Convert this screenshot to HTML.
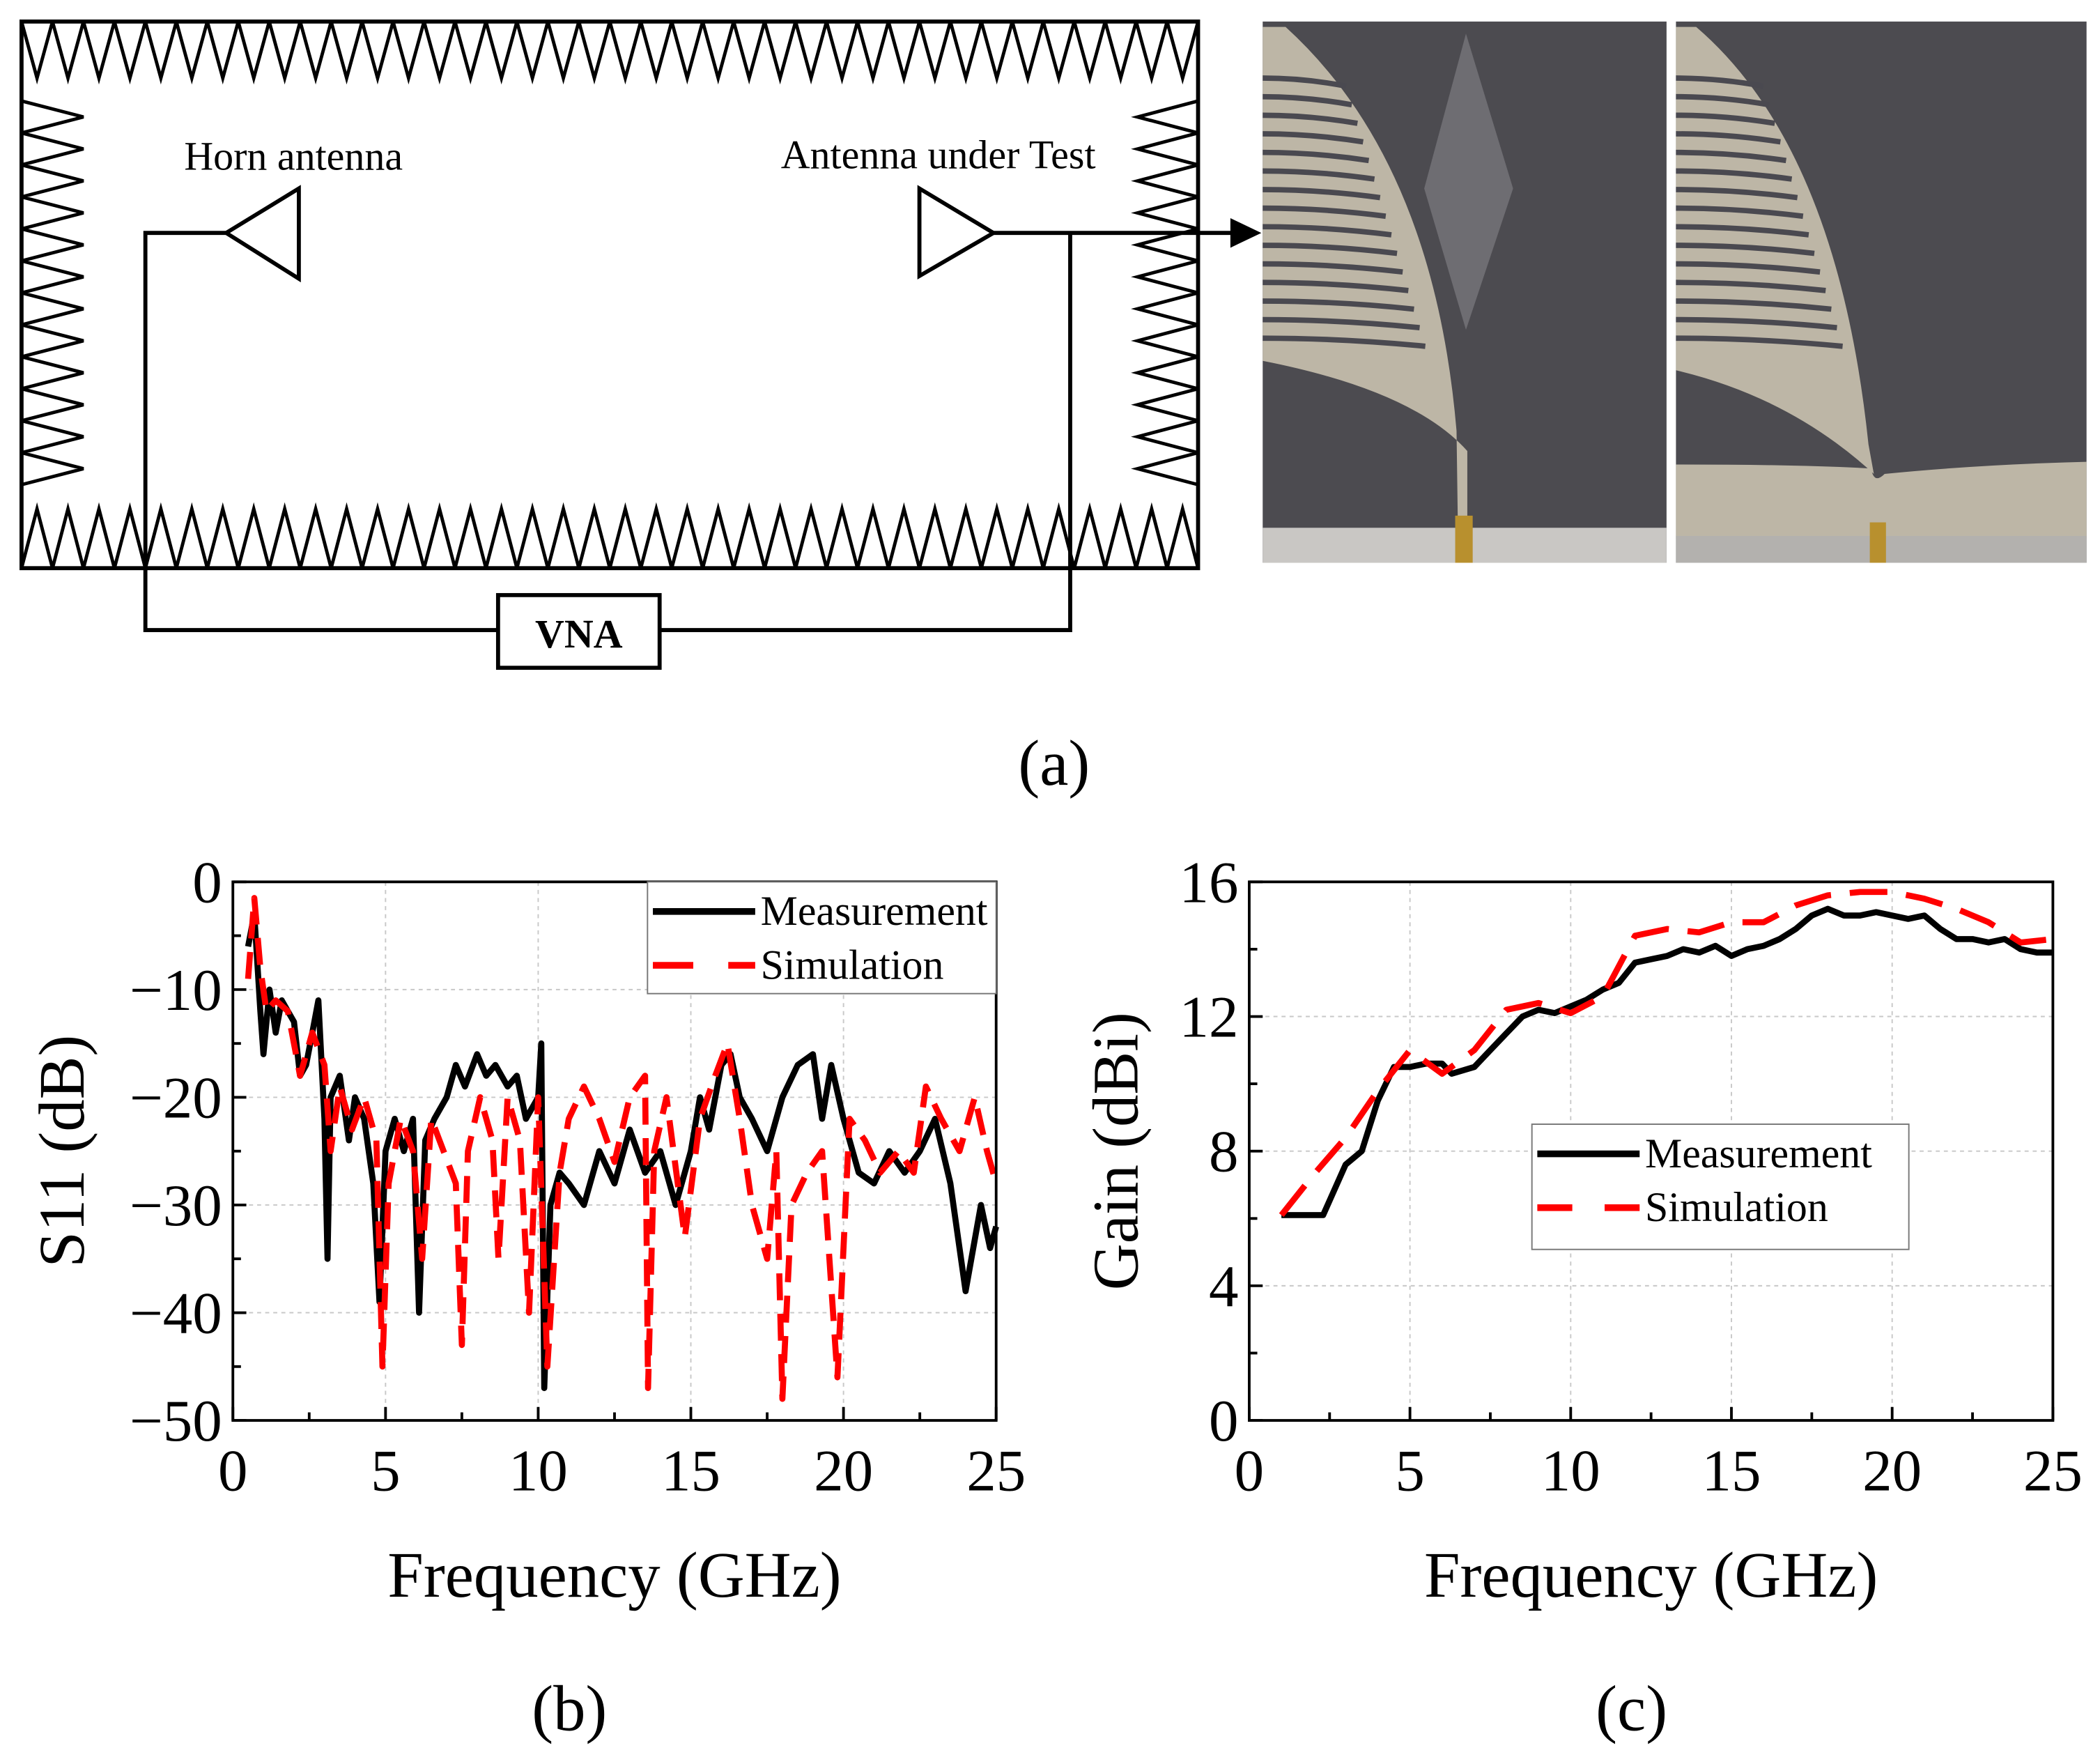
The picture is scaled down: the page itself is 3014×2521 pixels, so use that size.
<!DOCTYPE html>
<html><head><meta charset="utf-8"><style>
html,body{margin:0;padding:0;background:#fff;}
svg{display:block;}
text{font-family:"Liberation Serif",serif;}
</style></head><body>
<svg id="fig" width="3014" height="2521" viewBox="0 0 1560 1305" preserveAspectRatio="none" xmlns="http://www.w3.org/2000/svg">
<g id="diag"></g>
<g id="photos">
  <rect x="938" y="16" width="300" height="402" fill="#4c4b50"/>
  <rect x="938" y="392" width="300" height="26" fill="#c9c7c4"/>
  <path d="M938,20 L955,20 Q1065,120 1082,320 L1083,392 L1090,392 L1090,335 Q1050,290 938,268 Z" fill="#bdb6a6"/>
  <polygon points="1089,25 1124,140 1089,245 1058,140" fill="#6e6d72"/>
  <rect x="1081" y="383" width="13" height="35" fill="#b8902e"/>
  <rect x="1245" y="16" width="305" height="402" fill="#4c4b50"/>
  <path d="M1245,20 L1260,20 Q1365,110 1388,330 L1392,352 Q1330,295 1245,275 Z" fill="#bdb6a6"/>
  <path d="M1245,345 Q1340,345 1390,348 Q1392,360 1400,352 Q1470,345 1550,343 L1550,400 L1245,400 Z" fill="#bdb6a6"/>
  <rect x="1245" y="398" width="305" height="20" fill="#b3b1ae"/>
  <rect x="1389" y="388" width="12" height="30" fill="#b8902e"/>
</g>
<g id="slots"></g>
<text x="783" y="583" font-size="48" text-anchor="middle">(a)</text>
<g id="chartB"></g>
<g id="chartC"></g>
<text x="423" y="1285" font-size="48" text-anchor="middle">(b)</text>
<text x="1212" y="1285" font-size="48" text-anchor="middle">(c)</text>
</svg>
<script>
const s11Freq=[0.5,0.7,0.9,1.0,1.2,1.4,1.6,1.8,2.0,2.2,2.4,2.6,2.8,3.0,3.1,3.2,3.5,3.8,4.0,4.3,4.6,4.8,5.0,5.3,5.6,5.9,6.1,6.3,6.6,7.0,7.3,7.6,8.0,8.3,8.6,9.0,9.3,9.6,10.0,10.1,10.2,10.4,10.7,11.0,11.5,12.0,12.5,13.0,13.5,14.0,14.5,15.0,15.3,15.6,16.0,16.3,16.6,17.0,17.5,18.0,18.5,19.0,19.3,19.6,20.0,20.5,21.0,21.5,22.0,22.5,23.0,23.5,24.0,24.5,24.8,25];
const s11Meas=[-6,-3,-12,-16,-10,-14,-11,-12,-13,-18,-17,-14,-11,-22,-35,-20,-18,-24,-20,-22,-28,-39,-25,-22,-25,-22,-40,-24,-22,-20,-17,-19,-16,-18,-17,-19,-18,-22,-20,-15,-47,-30,-27,-28,-30,-25,-28,-23,-27,-25,-30,-25,-20,-23,-17,-16,-20,-22,-25,-20,-17,-16,-22,-17,-22,-27,-28,-25,-27,-25,-22,-28,-38,-30,-34,-32];
const s11SimFreq=[0.5,0.7,0.9,1.1,1.4,1.8,2.2,2.6,3.0,3.2,3.5,3.9,4.3,4.7,4.9,5.1,5.5,5.9,6.2,6.5,6.9,7.3,7.5,7.7,8.1,8.5,8.7,9.0,9.4,9.7,10.0,10.3,10.7,11.0,11.5,12.0,12.5,13.0,13.5,13.6,13.8,14.2,14.8,15.3,15.8,16.2,16.6,17.0,17.5,17.8,18.0,18.3,18.8,19.3,19.8,20.2,20.7,21.2,21.8,22.3,22.7,23.2,23.8,24.3,24.7,25];
const s11Sim=[-9,-1.5,-8,-12,-11,-12,-18,-14,-17,-25,-19,-23,-20,-24,-45,-28,-22,-25,-35,-22,-25,-28,-43,-25,-20,-24,-35,-20,-24,-40,-20,-45,-27,-22,-19,-22,-26,-20,-18,-47,-25,-20,-33,-22,-18,-15,-22,-30,-35,-25,-48,-30,-27,-25,-46,-22,-24,-27,-25,-27,-19,-22,-25,-20,-25,-28];
const gainFreq=[1,2,2.3,3,3.5,4,4.5,5,5.5,6,6.3,7,7.5,8,8.5,9,9.5,10,10.5,11,11.5,12,12.5,13,13.5,14,14.5,15,15.5,16,16.5,17,17.5,18,18.5,19,19.5,20,20.5,21,21.5,22,22.5,23,23.5,24,24.5,25];
const gainMeas=[6.1,6.1,6.1,7.6,8,9.5,10.5,10.5,10.6,10.6,10.3,10.5,11,11.5,12,12.2,12.1,12.3,12.5,12.8,13,13.6,13.7,13.8,14,13.9,14.1,13.8,14,14.1,14.3,14.6,15,15.2,15,15,15.1,15,14.9,15,14.6,14.3,14.3,14.2,14.3,14,13.9,13.9];
const gainSimFreq=[1,2,3,4,5,6,7,8,9,10,11,12,13,14,15,16,17,18,19,20,21,22,23,24,25];
const gainSim=[6.1,7.3,8.4,9.8,11,10.3,11,12.2,12.4,12.1,12.6,14.4,14.6,14.5,14.8,14.8,15.3,15.6,15.7,15.7,15.5,15.2,14.8,14.2,14.3];
const s11YTicks=[0,-10,-20,-30,-40,-50];
const gainYTicks=[0,4,8,12,16];
const xTicks=[0,5,10,15,20,25];

const NS="http://www.w3.org/2000/svg";
function mk(parent,tag,attrs,txt){const e=document.createElementNS(NS,tag);for(const k in attrs)e.setAttribute(k,attrs[k]);if(txt!==undefined)e.textContent=txt;parent.appendChild(e);return e;}

const d=document.getElementById('diag');
let e;
e=mk(d,'rect',{x:16,y:16,width:874,height:406,fill:'none',stroke:'#000','stroke-width':3});


let p='';
const nT=38, w=(890-16)/nT;
for(let i=0;i<nT;i++){const x=16+i*w;p+=`M${x},16 L${x+w/2},58 L${x+w},16 `;}
for(let i=0;i<nT;i++){const x=16+i*w;p+=`M${x},422 L${x+w/2},378 L${x+w},422 `;}
const nS=12,h=(360-75)/nS;
for(let i=0;i<nS;i++){const y=75+i*h;p+=`M16,${y} L62,${y+h/2} L16,${y+h} `;p+=`M890,${y} L845,${y+h/2} L890,${y+h} `;}
e=mk(d,'path',{d:p,fill:'none',stroke:'#000','stroke-width':2.5});


e=mk(d,'path',{d:'M168,173 L222,140 L222,207 Z M738,173 L683,140 L683,205 Z',fill:'none',stroke:'#000','stroke-width':3});


e=mk(d,'path',{d:'M168,173 L108,173 L108,468 L370,468 M490,468 L795,468 L795,173 L738,173 M795,173 L918,173',fill:'none',stroke:'#000','stroke-width':3});


e=mk(d,'path',{d:'M937,173 L914,162 L914,184 Z',fill:'#000'});


e=mk(d,'rect',{x:370,y:442,width:120,height:54,fill:'#fff',stroke:'#000','stroke-width':3});


e=mk(d,'text',{x:430,y:481,'font-size':30,'font-weight':'bold','text-anchor':'middle'},'VNA');


e=mk(d,'text',{x:218,y:126,'font-size':30,'text-anchor':'middle'},'Horn antenna');


e=mk(d,'text',{x:697,y:125,'font-size':30,'text-anchor':'middle'},'Antenna under Test');



const sl=document.getElementById('slots');
let sp='';
for(let i=0;i<15;i++){const y=58+i*13.8;const xe=1000+i*4.2;sp+=`M938,${y} Q${(938+xe)/2},${y} ${xe},${y+6} `;}
for(let i=0;i<15;i++){const y=58+i*13.8;const xe=1310+i*4.2;sp+=`M1245,${y} Q${(1245+xe)/2},${y} ${xe},${y+6} `;}
e=mk(sl,'path',{d:sp,fill:'none',stroke:'#4a4950','stroke-width':4});



function chart(gid,L,R,T,B,ymin,ymax,yTicks,minorY,series,ylabel,legend){
  const g=document.getElementById(gid);
  const X=v=>L+(v-0)/25*(R-L);
  const Y=v=>B-(v-ymin)/(ymax-ymin)*(B-T);
  let gp='';
  xTicks.forEach(t=>{if(t>0&&t<25)gp+=`M${X(t)},${T} L${X(t)},${B} `;});
  yTicks.forEach(t=>{if(t!==ymin&&t!==ymax)gp+=`M${L},${Y(t)} L${R},${Y(t)} `;});
  let el=mk(g,'path',{d:gp,stroke:'#c8c8c8','stroke-width':1,'stroke-dasharray':'3,3',fill:'none'});
  
  
  series.forEach(s=>{
    const pts=s.x.map((v,i)=>X(v).toFixed(1)+','+Y(s.y[i]).toFixed(1)).join(' ');
    const a={points:pts,fill:'none',stroke:s.color,'stroke-width':4.5,'stroke-linejoin':'round'};
    if(s.dash)a['stroke-dasharray']=s.dash;
    const ln=mk(g,'polyline',a);
    
    
  });
  el=mk(g,'rect',{x:L,y:T,width:R-L,height:B-T,fill:'none',stroke:'#000','stroke-width':2});
  
  
  let tp='';
  for(let v=0;v<=25;v+=2.5){const len=(v%5===0)?10:6;tp+=`M${X(v)},${B} L${X(v)},${B-len} `;}
  yTicks.forEach(t=>{tp+=`M${L},${Y(t)} L${L+10},${Y(t)} `;});
  minorY.forEach(t=>{tp+=`M${L},${Y(t)} L${L+6},${Y(t)} `;});
  el=mk(g,'path',{d:tp,stroke:'#000','stroke-width':2,fill:'none'});
  
  
  xTicks.forEach(t=>{const tx=mk(g,'text',{x:X(t),y:B+52,'font-size':44,'text-anchor':'middle'},String(t));
    
    });
  yTicks.forEach(t=>{const tx=mk(g,'text',{x:L-8,y:Y(t)+15,'font-size':44,'text-anchor':'end'},String(t).replace('-','\u2212'));
    
    });
  el=mk(g,'text',{x:(L+R)/2,y:1186,'font-size':48,'text-anchor':'middle'},'Frequency (GHz)');
  
  
  const ly=(T+B)/2;
  el=mk(g,'text',{x:ylabel.x,y:ly,'font-size':48,'text-anchor':'middle',transform:`rotate(-90 ${ylabel.x} ${ly})`},ylabel.t);
  
  
  const lg=mk(g,'g',{});
  
  
  el=mk(lg,'rect',{x:legend.x,y:legend.y,width:legend.w,height:legend.h,fill:'#fff',stroke:'#777','stroke-width':1});
  
  
  series.forEach((s,i)=>{
    const yy=legend.y+22+i*40;
    const a={x1:legend.x+4,y1:yy,x2:legend.x+80,y2:yy,stroke:s.color,'stroke-width':5};
    if(s.dash)a['stroke-dasharray']=legend.dash;
    const l=mk(lg,'line',a);
    
    
    const tx=mk(lg,'text',{x:legend.x+84,y:yy+10,'font-size':31},s.label);
    
    
  });
}
chart('chartB',173,740,655,1055,-50,0,s11YTicks,[-5,-15,-25,-35,-45],[
  {x:s11Freq,y:s11Meas,color:'#000',name:'measurement-line',label:'Measurement'},
  {x:s11SimFreq,y:s11Sim,color:'#f00',dash:'20,10',name:'simulation-line',label:'Simulation'}
],{x:62,t:'S11 (dB)'},{x:481,y:655,w:259,h:83,dash:'30,26'});
chart('chartC',928,1525,655,1055,0,16,gainYTicks,[2,6,10,14],[
  {x:gainFreq,y:gainMeas,color:'#000',name:'measurement-line',label:'Measurement'},
  {x:gainSimFreq,y:gainSim,color:'#f00',dash:'28,14',name:'simulation-line',label:'Simulation'}
],{x:845,t:'Gain (dBi)'},{x:1138,y:835,w:280,h:93,dash:'26,24'});
</script>
</body></html>
